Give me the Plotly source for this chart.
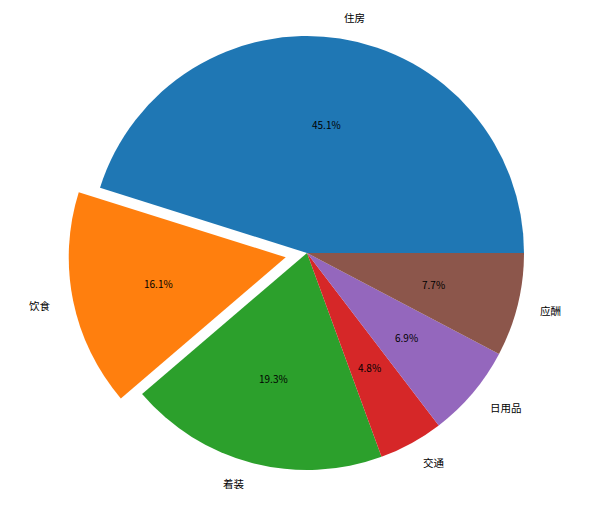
import math
import plotly.graph_objects as go

# ---- data ----
categories = ["住房", "饮食", "着装", "交通", "日用品", "应酬"]
values = [45.1, 16.1, 19.3, 4.8, 6.9, 7.7]
explode = [0, 0.1, 0, 0, 0, 0]
colors = ["#1f77b4", "#ff7f0e", "#2ca02c", "#d62728", "#9467bd", "#8c564b"]

# ---- layout geometry (pixels) ----
W, H = 595, 515
cx, cy, r = 307.0, 253.0, 217.0
max_pull = max(explode)
half = r * (1 + max_pull)  # plotly shrinks radius by (1+maxPull)

dom_x = [(cx - half) / W, (cx + half) / W]
dom_y = [(H - cy - half) / H, (H - cy + half) / H]

total = sum(values)
# plotly (counterclockwise): first slice spans [rotation, rotation + v0] clockwise
# so to start the first slice at 3 o'clock going counterclockwise:
rotation = 90 - 360.0 * values[0] / total

fig = go.Figure(go.Pie(
    labels=categories,
    values=values,
    pull=explode,
    sort=False,
    direction="counterclockwise",
    rotation=rotation,
    marker=dict(colors=colors, line=dict(width=0)),
    textinfo="none",
    hoverinfo="label+percent",
    domain=dict(x=dom_x, y=dom_y),
    showlegend=False,
))

font_family = "Noto Sans CJK SC, SimHei, sans-serif"
cum = 0.0
annotations = []
for lab, v, ex in zip(categories, values, explode):
    theta = 2 * math.pi * (cum + v / 2) / total
    cum += v
    ox = cx + ex * r * math.cos(theta)
    oy = cy - ex * r * math.sin(theta)
    # outer label at 1.1 r
    lx = ox + 1.1 * r * math.cos(theta)
    ly = oy - 1.1 * r * math.sin(theta)
    annotations.append(dict(
        x=lx / W, y=1 - ly / H, xref="paper", yref="paper",
        text=lab, showarrow=False,
        xanchor="left" if math.cos(theta) > 0 else "right", yanchor="middle",
        font=dict(family=font_family, size=10.5, color="#000000"),
        borderpad=0,
    ))
    # percentage at 0.6 r
    px = ox + 0.6 * r * math.cos(theta)
    py = oy - 0.6 * r * math.sin(theta)
    annotations.append(dict(
        x=px / W, y=1 - py / H, xref="paper", yref="paper",
        text=f"{v / total * 100:.1f}%", showarrow=False,
        xanchor="center", yanchor="middle",
        font=dict(family=font_family, size=10, color="#000000"),
        borderpad=0,
    ))

fig.update_layout(
    width=W, height=H,
    margin=dict(l=0, r=0, t=0, b=0),
    paper_bgcolor="white",
    plot_bgcolor="white",
    annotations=annotations,
)

fig.write_html(
    "out.html",
    config={"displayModeBar": False},
    post_script="document.body.style.margin='0';document.body.style.overflow='hidden';",
)
